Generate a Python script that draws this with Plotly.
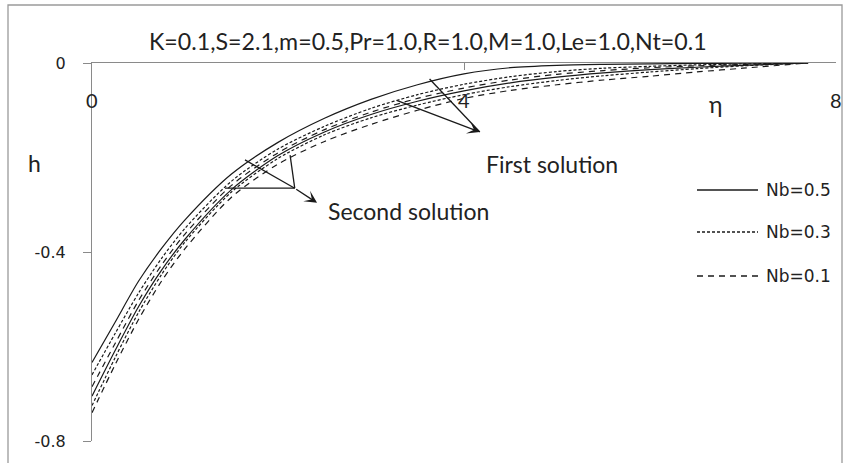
import plotly.graph_objects as go

# Similarity variable and nanoparticle concentration profiles h(eta)
eta = [0, 0.25, 0.5, 0.75, 1, 1.5, 2, 2.5, 3, 3.5, 4, 4.5, 5, 5.5, 6, 6.5, 7, 7.7]

# First solution branch
h_first_nb05 = [-0.634, -0.548, -0.462, -0.392, -0.332, -0.235, -0.168, -0.117, -0.077, -0.046,
                -0.023, -0.010, -0.005, -0.003, -0.002, -0.001, -0.0005, 0.0]
h_first_nb03 = [-0.660, -0.572, -0.487, -0.413, -0.350, -0.250, -0.182, -0.134, -0.096, -0.067,
                -0.045, -0.029, -0.018, -0.011, -0.007, -0.004, -0.002, 0.0]
h_first_nb01 = [-0.685, -0.593, -0.503, -0.427, -0.362, -0.259, -0.190, -0.141, -0.104, -0.075,
                -0.053, -0.036, -0.024, -0.016, -0.010, -0.006, -0.003, 0.0]

# Second solution branch
h_second_nb05 = [-0.705, -0.608, -0.516, -0.438, -0.373, -0.268, -0.196, -0.146, -0.109, -0.081,
                 -0.059, -0.042, -0.030, -0.021, -0.014, -0.009, -0.005, 0.0]
h_second_nb03 = [-0.725, -0.623, -0.528, -0.447, -0.379, -0.273, -0.202, -0.152, -0.116, -0.089,
                 -0.067, -0.050, -0.037, -0.027, -0.019, -0.012, -0.006, 0.0]
h_second_nb01 = [-0.740, -0.638, -0.543, -0.461, -0.393, -0.284, -0.214, -0.166, -0.130, -0.100,
                 -0.075, -0.058, -0.046, -0.036, -0.028, -0.019, -0.011, 0.0]

nb_labels = ["Nb=0.5", "Nb=0.3", "Nb=0.1"]
nb_dashes = ["solid", "3px,2px", "6px,5px"]

x_ticks = [0, 4, 8]
y_ticks = [0, -0.4, -0.8]
y_tick_text = ["0", "-0.4", "-0.8"]

title_text = "K=0.1,S=2.1,m=0.5,Pr=1.0,R=1.0,M=1.0,Le=1.0,Nt=0.1"

INK = "#1a1a1a"
AXIS = "#8a8a8a"

fig = go.Figure()

branches = [
    [h_first_nb05, h_first_nb03, h_first_nb01],
    [h_second_nb05, h_second_nb03, h_second_nb01],
]
for branch in branches:
    for h, dash, name in zip(branch, nb_dashes, nb_labels):
        fig.add_trace(go.Scatter(
            x=eta, y=h, mode="lines", name=name, showlegend=False,
            line=dict(color=INK, width=1.2, dash=dash, shape="spline", smoothing=0.8),
        ))

# Plot area geometry (paper fractions)
X0, X1 = 92 / 848, 836 / 848
Y0, Y1 = (463 - 441) / 463, (463 - 63) / 463

fig.update_layout(
    width=848, height=463,
    margin=dict(l=0, r=0, t=0, b=0, pad=0, autoexpand=False),
    paper_bgcolor="white", plot_bgcolor="white",
    showlegend=False,
    xaxis=dict(
        domain=[X0, X1], range=[0, 8], side="top", automargin=False,
        showgrid=False, zeroline=False,
        showline=True, linecolor=AXIS, linewidth=1.3,
        ticks="inside", ticklen=7, tickcolor=AXIS, tickwidth=1.3,
        tickvals=x_ticks, showticklabels=False,
    ),
    yaxis=dict(
        domain=[Y0, Y1], range=[-0.8, 0], automargin=False,
        showgrid=False, zeroline=False,
        showline=True, linecolor=AXIS, linewidth=1.3,
        ticks="outside", ticklen=8, tickcolor=AXIS, tickwidth=1.3,
        tickvals=y_ticks, ticktext=y_tick_text,
        tickfont=dict(family="DejaVu Sans", size=16, color="#222"),
        ticklabelstandoff=14,
    ),
)

annotations = []
shapes = []

# Chart area border
shapes.append(dict(type="rect", xref="paper", yref="paper",
                   x0=8 / 848, x1=842 / 848, y0=-0.02, y1=(463 - 5) / 463,
                   line=dict(color="#9a9a9a", width=1.3)))

# Title
annotations.append(dict(text=title_text, xref="paper", yref="paper",
                        x=428 / 848, y=(463 - 41) / 463, showarrow=False,
                        xanchor="center", yanchor="middle",
                        font=dict(family="Lato", size=23.2, color="#222")))

# x tick labels placed below the top axis line
for v in x_ticks:
    annotations.append(dict(text=str(v), xref="x", yref="y", x=v, y=0,
                            yshift=-37, showarrow=False, xanchor="center", yanchor="middle",
                            font=dict(family="Lato", size=20, color="#222")))

# Axis titles
annotations.append(dict(text="η", xref="paper", yref="paper", x=724 / 848, y=(463 - 88) / 463,
                        showarrow=False, font=dict(family="Lato", size=23, color="#222")))
annotations.append(dict(text="h", xref="paper", yref="paper", x=26 / 848, y=(463 - 163) / 463,
                        showarrow=False, font=dict(family="Lato", size=23, color="#222")))

# Branch labels
annotations.append(dict(text="First solution", xref="paper", yref="paper",
                        x=552 / 848, y=(463 - 148) / 463, showarrow=False,
                        font=dict(family="Lato", size=23, color="#222")))
annotations.append(dict(text="Second solution", xref="paper", yref="paper",
                        x=408 / 848, y=(463 - 211) / 463, showarrow=False,
                        font=dict(family="Lato", size=23, color="#222")))

# Pointer lines for the two branches (data coordinates)
def seg(x0, y0, x1, y1):
    shapes.append(dict(type="line", xref="x", yref="y", x0=x0, y0=y0, x1=x1, y1=y1,
                       line=dict(color=INK, width=1.3)))

# Second solution pointer
seg(1.43, -0.265, 2.18, -0.265)
seg(1.645, -0.205, 2.18, -0.265)
seg(2.13, -0.195, 2.18, -0.265)
annotations.append(dict(x=2.42, y=-0.296, ax=2.18, ay=-0.265, xref="x", yref="y",
                        axref="x", ayref="y", text="", showarrow=True,
                        arrowhead=3, arrowsize=1.6, arrowwidth=1.3, arrowcolor=INK))
# First solution pointer
seg(3.63, -0.034, 4.17, -0.146)
annotations.append(dict(x=4.17, y=-0.146, ax=3.26, ay=-0.078, xref="x", yref="y",
                        axref="x", ayref="y", text="", showarrow=True,
                        arrowhead=3, arrowsize=1.6, arrowwidth=1.3, arrowcolor=INK))

# Legend drawn as sample lines with labels
legend_y = [190, 232, 276]
for name, dash, py in zip(nb_labels, nb_dashes, legend_y):
    yy = (463 - py) / 463
    shapes.append(dict(type="line", xref="paper", yref="paper",
                       x0=697 / 848, x1=758 / 848, y0=yy, y1=yy,
                       line=dict(color=INK, width=1.3, dash=dash)))
    annotations.append(dict(text=name, xref="paper", yref="paper", x=764 / 848, y=yy,
                            xanchor="left", yanchor="middle", showarrow=False,
                            font=dict(family="DejaVu Sans", size=17, color="#222")))

fig.update_layout(annotations=annotations, shapes=shapes)
fig.write_html("out.html")
